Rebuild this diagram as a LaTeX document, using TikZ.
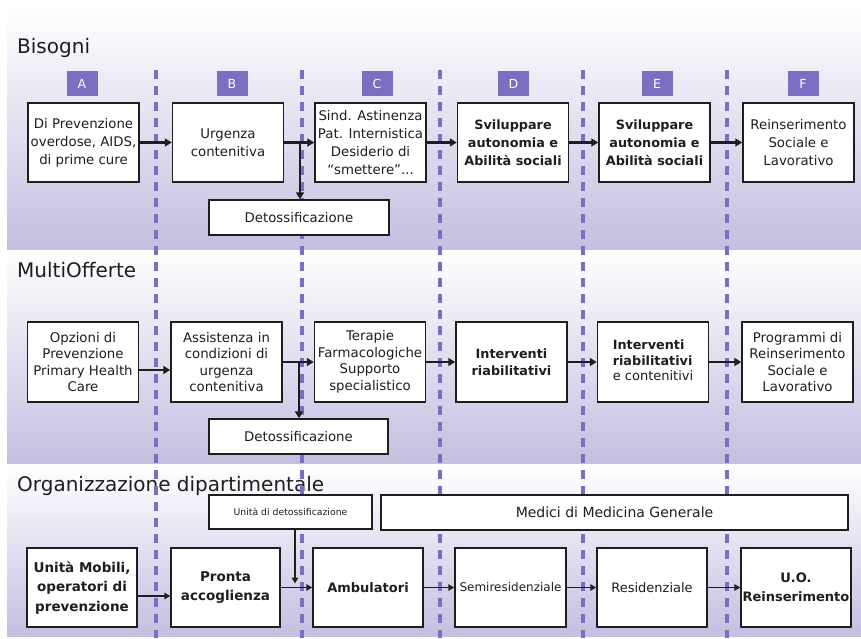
\documentclass[tikz,border=0pt]{standalone}
\usepackage{fontspec}
\setmainfont{DejaVu Sans}
\usetikzlibrary{arrows.meta}
\definecolor{lav}{HTML}{C3BFE0}
\definecolor{purp}{HTML}{7A6FC0}
\definecolor{ink}{HTML}{1E1E1E}
\tikzset{
  band/.style={top color=white, bottom color=lav, draw=none},
  ttl/.style={anchor=base west, inner sep=0, text=ink, font=\fontsize{20}{24}\selectfont},
  sep/.style={draw=purp, line width=3.5pt, dash pattern=on 9pt off 7pt},
  letterbox/.style={fill=purp, text=white, minimum width=31pt, minimum height=25pt, inner sep=0, font=\fontsize{12.5}{14}\selectfont},
  stagebox/.style={draw=ink, line width=1.5pt, fill=white, minimum width=111pt, minimum height=79pt, inner sep=0pt, align=center, text=ink, font=\fontsize{13.3}{18}\selectfont},
  widebox/.style={draw=ink, line width=1.5pt, fill=white, minimum height=35pt, inner sep=0, text=ink, font=\fontsize{13.3}{15}\selectfont},
  arr/.style={draw=ink, line width=2.6pt, -{Triangle[length=7pt,width=8pt]}},
  arrthin/.style={draw=ink, line width=1.5pt, -{Triangle[length=6pt,width=6.5pt]}},
}
\newcommand{\bfs}{\fontsize{12.8}{18.5}\selectfont\bfseries}
\begin{document}
\begin{tikzpicture}[x=1pt,y=-1pt]
\useasboundingbox (0,0) rectangle (861,638);
\fill[white] (0,0) rectangle (861,638);
% bands
\shade[band] (7,8) rectangle (861,249);
\shade[band] (7,250) rectangle (861,463);
\shade[band] (7,465) rectangle (861,636);
% titles
\node[ttl] (t1) at (17,53) {Bisogni};
\node[ttl] (t2) at (17,277) {MultiOfferte};
\node[ttl] (t3) at (17,491) {Organizzazione dipartimentale};
% separators
\foreach \x in {156,302,440,583,727} {
  \draw[sep] (\x,70) -- (\x,638);
}
% letters
\node[letterbox] (LA) at (82,83.5) {A};
\node[letterbox] (LB) at (232,83.5) {B};
\node[letterbox] (LC) at (377,83.5) {C};
\node[letterbox] (LD) at (513.5,83.5) {D};
\node[letterbox] (LE) at (657,83.5) {E};
\node[letterbox] (LF) at (803,83.5) {F};
% row 1
\node[stagebox] (A1) at (83.5,142.5) {Di Prevenzione\\overdose, AIDS,\\di prime cure};
\node[stagebox] (B1) at (228,142.5) {Urgenza\\contenitiva};
\node[stagebox] (C1) at (370.5,142.5) {Sind. Astinenza\\Pat. Internistica\\Desiderio di\\“smettere”...};
\node[stagebox] (D1) at (513,142.5) {\bfs Sviluppare\\\bfs autonomia e\\\bfs Abilità sociali};
\node[stagebox] (E1) at (654.5,142.5) {\bfs Sviluppare\\\bfs autonomia e\\\bfs Abilità sociali};
\node[stagebox] (F1) at (798.5,142.5) {Reinserimento\\Sociale e\\Lavorativo};
\node[widebox, minimum width=180pt] (X1) at (299,217.5) {Detossificazione};
% row 2
\tikzset{row2/.style={stagebox, minimum height=80pt, font=\fontsize{13.3}{16.5}\selectfont}}
\node[row2] (A2) at (83,362) {Opzioni di\\Prevenzione\\Primary Health\\Care};
\node[row2] (B2) at (226.5,362) {Assistenza in\\condizioni di\\urgenza\\contenitiva};
\node[row2] (C2) at (370,362) {Terapie\\Farmacologiche\\Supporto\\specialistico};
\node[row2] (D2) at (511.5,362) {\bfs Interventi\\\bfs riabilitativi};
\node[row2] (E2) at (653,362) {\begin{tabular}{@{}l@{}}\bfs Interventi\\[-1pt]\bfs riabilitativi\\[-1pt]\fontsize{13}{17}\selectfont e contenitivi\end{tabular}};
\node[row2] (F2) at (797.5,362) {Programmi di\\Reinserimento\\Sociale e\\Lavorativo};
\node[widebox, minimum width=179pt] (X2) at (298.5,436.5) {Detossificazione};
% row 3
\node[widebox, minimum width=163pt, minimum height=34pt, font=\fontsize{9.3}{11}\selectfont] (U3) at (290.5,512) {Unità di detossificazione};
\node[widebox, minimum width=467pt, font=\fontsize{14}{16}\selectfont] (M3) at (614.5,512.5) {Medici di Medicina Generale};
\node[stagebox, minimum width=110pt, font=\fontsize{13.5}{19.5}\selectfont\bfseries] (A3) at (82,587.5) {Unità Mobili,\\operatori di\\prevenzione};
\node[stagebox, minimum width=109pt, font=\fontsize{13.5}{19.5}\selectfont\bfseries] (B3) at (225.5,587.5) {Pronta\\accoglienza};
\node[stagebox, minimum width=110pt, font=\fontsize{13}{17}\selectfont\bfseries] (C3) at (368,587.5) {Ambulatori};
\node[stagebox, font=\fontsize{12}{15}\selectfont] (D3) at (510.5,587.5) {Semiresidenziale};
\node[stagebox, minimum width=110pt, font=\fontsize{13}{15}\selectfont] (E3) at (652,587.5) {Residenziale};
\node[stagebox, minimum width=110pt, font=\fontsize{13}{18.5}\selectfont\bfseries] (F3) at (796,587.5) {U.O.\\Reinserimento};
% arrows row 1
\draw[arr] (A1.east) -- (B1.west);
\draw[arr] (B1.east) -- (C1.west);
\coordinate (j1) at (300,142.5);
\draw[arr] (j1) -- (j1 |- X1.north);
\draw[arr] (C1.east) -- (D1.west);
\draw[arr] (D1.east) -- (E1.west);
\draw[arr] (E1.east) -- (F1.west);
% arrows row 2
\draw[arr] ([yshift=-8pt]A2.east) -- ([yshift=-8pt]B2.west);
\draw[arr] (B2.east) -- (C2.west);
\coordinate (j2) at (299,362);
\draw[arr] (j2) -- (j2 |- X2.north);
\draw[arr] (C2.east) -- (D2.west);
\draw[arr] (D2.east) -- (E2.west);
\draw[arr] (E2.east) -- (F2.west);
% arrows row 3
\draw[arrthin] ([yshift=-8.5pt]A3.east) -- ([yshift=-8.5pt]B3.west);
\draw[arrthin] (B3.east) -- (C3.west);
\coordinate (j3) at ([xshift=4.5pt]U3.south);
\draw[arrthin] (j3) -- ([yshift=4pt]j3 |- B3.east);
\draw[arrthin] (C3.east) -- (D3.west);
\draw[arrthin] (D3.east) -- (E3.west);
\draw[arrthin] (E3.east) -- (F3.west);
\end{tikzpicture}
\end{document}
